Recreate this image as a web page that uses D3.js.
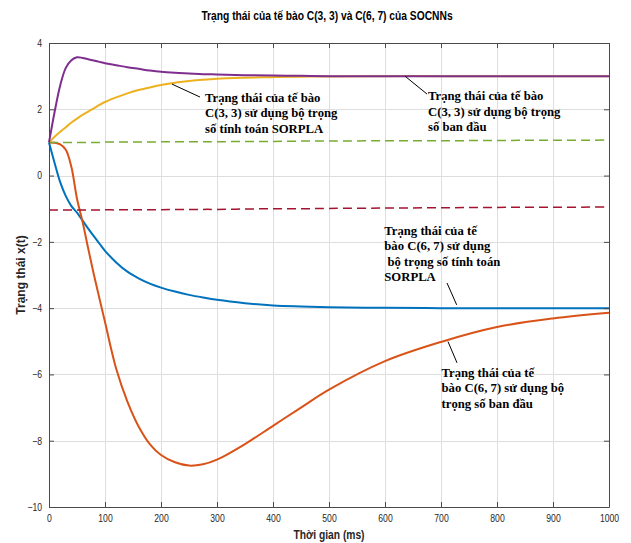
<!DOCTYPE html>
<html>
<head>
<meta charset="utf-8">
<script src="https://cdn.jsdelivr.net/npm/d3@7"></script>
<style>
  body { margin: 0; background: #fff; }
  svg { display: block; }
</style>
</head>
<body>
<div id="chart"></div>
<script>
// thời gian lấy mẫu (ms) và các trạng thái
const times = [0, 10, 20, 30, 40, 50, 60, 70, 80, 90, 100, 120, 140, 160, 180, 200, 225, 250, 275, 300, 350, 400, 450, 500, 600, 700, 800, 900, 1000];

const blueC67 = [1.0, 0.38, -0.2, -0.62, -0.92, -1.12, -1.36, -1.6, -1.83, -2.05, -2.27, -2.62, -2.9, -3.1, -3.26, -3.38, -3.5, -3.6, -3.68, -3.75, -3.85, -3.92, -3.95, -3.97, -3.99, -4.0, -4.0, -4.0, -4.0];
const orangeC67 = [1.0, 0.99, 0.94, 0.78, 0.26, -0.7, -1.4, -2.2, -2.98, -3.7, -4.42, -5.83, -6.82, -7.57, -8.1, -8.43, -8.65, -8.75, -8.71, -8.57, -8.1, -7.55, -7.0, -6.46, -5.6, -5.02, -4.57, -4.31, -4.14];
const yellowC33 = [1.0, 1.17, 1.32, 1.46, 1.6, 1.72, 1.83, 1.93, 2.03, 2.13, 2.22, 2.36, 2.48, 2.58, 2.66, 2.73, 2.8, 2.85, 2.89, 2.92, 2.95, 2.97, 2.985, 2.99, 3.0, 3.0, 3.0, 3.0, 3.0];
const purpleC33 = [1.0, 1.92, 2.72, 3.25, 3.48, 3.57, 3.55, 3.51, 3.47, 3.43, 3.39, 3.33, 3.27, 3.22, 3.17, 3.13, 3.1, 3.08, 3.06, 3.05, 3.03, 3.02, 3.01, 3.0, 3.0, 3.0, 3.0, 3.0, 3.0];
const greenDash = [1.0, 1.0, 1.0, 1.0, 1.0, 1.0, 1.0, 1.0, 1.0, 1.0, 1.01, 1.01, 1.01, 1.01, 1.01, 1.02, 1.02, 1.02, 1.02, 1.02, 1.03, 1.03, 1.04, 1.04, 1.05, 1.05, 1.06, 1.065, 1.07];
const redDash = [-1.04, -1.04, -1.04, -1.04, -1.04, -1.04, -1.04, -1.04, -1.04, -1.04, -1.035, -1.035, -1.03, -1.03, -1.03, -1.03, -1.025, -1.025, -1.02, -1.02, -1.01, -1.0, -1.0, -0.99, -0.98, -0.97, -0.96, -0.955, -0.95];

const xTicks = d3.range(0, 1001, 100);
const yTicks = [-10, -8, -6, -4, -2, 0, 2, 4];

const series = [
  { name: "blue", values: blueC67, color: "#0072BD", dash: null, width: 2 },
  { name: "orange", values: orangeC67, color: "#D95319", dash: null, width: 2 },
  { name: "yellow", values: yellowC33, color: "#EDB120", dash: null, width: 2 },
  { name: "purple", values: purpleC33, color: "#7E2F8E", dash: null, width: 2 },
  { name: "green", values: greenDash, color: "#77AC30", dash: "9,5", width: 1.5 },
  { name: "red", values: redDash, color: "#A2142F", dash: "9,5", width: 1.5 }
];

// chú thích: vị trí theo toạ độ dữ liệu (t, x)
const notes = [
  { lines: ["Trạng thái của tế bào", "C(3, 3) sử dụng bộ trọng", "số tính toán SORPLA"], at: [278.6, 2.23], from: [219.6, 2.76], to: [269.6, 2.37] },
  { lines: ["Trạng thái của tế bào", "C(3, 3) sử dụng bộ trọng", "số ban đầu"], at: [676.8, 2.28], from: [635.7, 3.0], to: [675, 2.46] },
  { lines: ["Trạng thái của tế", "bào C(6, 7) sử dụng", "\u00a0bộ trọng số tính toán", "SORPLA"], at: [598.8, -1.79], from: [710.7, -3.24], to: [728, -3.9] },
  { lines: ["Trạng thái của tế", "bào C(6, 7) sử dụng bộ", "trọng số ban đầu"], at: [701, -6.07], from: [712.5, -5.01], to: [728.6, -5.65] }
];

const width = 631, height = 543;
const margin = { top: 43, right: 22, bottom: 36, left: 49 };
const innerWidth = width - margin.left - margin.right;
const innerHeight = height - margin.top - margin.bottom;
const SX = 0.82;     // hình gốc bị nén ngang
const SX_NOTE = 0.94;

// nén chữ theo chiều ngang bằng textLength (không dùng transform)
const squeeze = (sel, k) => sel.each(function () {
  const w = this.getComputedTextLength();
  d3.select(this).attr("textLength", w * k).attr("lengthAdjust", "spacingAndGlyphs");
});

const xScale = d3.scaleLinear().domain([0, 1000]).range([0, innerWidth]);
const yScale = d3.scaleLinear().domain([-10, 4]).range([innerHeight, 0]);

const svg = d3.select("#chart").append("svg")
  .attr("width", width).attr("height", height)
  .attr("viewBox", [0, 0, width, height]);

const inner = svg.append("g").attr("transform", `translate(${margin.left},${margin.top})`);

// lưới
inner.append("g").selectAll("line").data(xTicks.slice(1, -1)).join("line")
  .attr("x1", d => Math.round(xScale(d)) + 0.5).attr("x2", d => Math.round(xScale(d)) + 0.5)
  .attr("y1", 0).attr("y2", innerHeight)
  .attr("stroke", "#dedede");
inner.append("g").selectAll("line").data(yTicks.slice(1, -1)).join("line")
  .attr("y1", d => Math.round(yScale(d)) + 0.5).attr("y2", d => Math.round(yScale(d)) + 0.5)
  .attr("x1", 0).attr("x2", innerWidth)
  .attr("stroke", "#dedede");

// đường cong
const line = d3.line()
  .x((d, i) => xScale(times[i]))
  .y(d => yScale(d))
  .curve(d3.curveCatmullRom.alpha(0.5));

inner.append("g").selectAll("path").data(series).join("path")
  .attr("d", d => line(d.values))
  .attr("fill", "none")
  .attr("stroke", d => d.color)
  .attr("stroke-width", d => d.width)
  .attr("stroke-dasharray", d => d.dash);

// trục
const axisColor = "#4a4a4a";
const styleAxis = g => {
  g.select(".domain").attr("stroke", axisColor);
  g.selectAll(".tick line").attr("stroke", axisColor);
  g.selectAll(".tick text").attr("fill", "#262626")
    .attr("font-family", "Liberation Sans, Arial, sans-serif").attr("font-size", 10.5);
};

inner.append("g").attr("transform", `translate(0,${innerHeight})`)
  .call(d3.axisBottom(xScale).tickValues(xTicks).tickFormat(d3.format("d")).tickSize(-5).tickSizeOuter(0).tickPadding(8))
  .call(styleAxis)
  .call(g => g.selectAll(".tick text").call(squeeze, SX));

inner.append("g")
  .call(d3.axisTop(xScale).tickValues(xTicks).tickSize(-5).tickSizeOuter(0).tickFormat(""))
  .call(styleAxis);

inner.append("g")
  .call(d3.axisLeft(yScale).tickValues(yTicks).tickFormat(d3.format("d")).tickSize(-5).tickSizeOuter(0).tickPadding(7))
  .call(styleAxis)
  .call(g => g.selectAll(".tick text").call(squeeze, SX));

inner.append("g").attr("transform", `translate(${innerWidth},0)`)
  .call(d3.axisRight(yScale).tickValues(yTicks).tickSize(-5).tickSizeOuter(0).tickFormat(""))
  .call(styleAxis);

// chữ
const addText = (g, x, y, s, o) => {
  const t = g.append("text")
    .attr("x", x).attr("y", y)
    .attr("font-family", o.family || "Liberation Sans, Arial, sans-serif")
    .attr("font-size", o.size)
    .attr("font-weight", o.weight || "normal")
    .attr("text-anchor", o.anchor || "start")
    .attr("fill", o.fill || "#000")
    .text(s);
  if (o.rotate) t.attr("transform", `rotate(${o.rotate},${x},${y})`);
  else t.call(squeeze, o.sx || SX);
  return t;
};

addText(svg, margin.left + innerWidth / 2 - 2, 20, "Trạng thái của tế bào C(3, 3) và C(6, 7) của SOCNNs",
  { size: 12.5, weight: "bold", anchor: "middle" });
addText(svg, margin.left + innerWidth / 2, 539, "Thời gian (ms)",
  { size: 12.5, weight: "bold", anchor: "middle", fill: "#262626" });
addText(svg, 25, margin.top + innerHeight / 2, "Trạng thái x(t)",
  { size: 12, weight: "bold", anchor: "middle", rotate: -90, fill: "#262626" });

// chú thích
const noteG = inner.append("g");
notes.forEach(n => {
  noteG.append("line")
    .attr("x1", xScale(n.from[0])).attr("y1", yScale(n.from[1]))
    .attr("x2", xScale(n.to[0])).attr("y2", yScale(n.to[1]))
    .attr("stroke", "#000").attr("stroke-width", 1);
  n.lines.forEach((s, i) => {
    addText(noteG, xScale(n.at[0]), yScale(n.at[1]) + i * 15.5, s,
      { size: 13.5, weight: "bold", family: "Liberation Serif, Times New Roman, serif", sx: SX_NOTE });
  });
});
</script>
</body>
</html>
